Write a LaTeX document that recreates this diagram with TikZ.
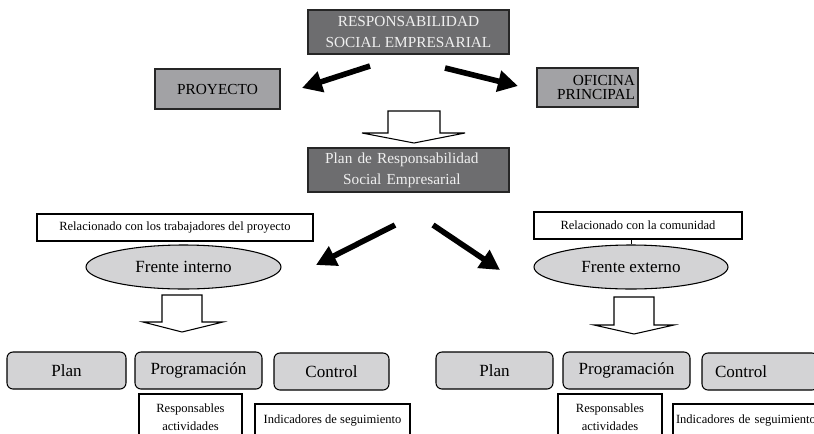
\documentclass[tikz,border=0pt]{standalone}
\usepackage{fontspec}
\setmainfont{Liberation Serif}
\usetikzlibrary{arrows.meta,shapes.geometric}
\definecolor{darkbox}{HTML}{6D6D6F}
\definecolor{midbox}{HTML}{A2A2A5}
\definecolor{lightbox}{HTML}{D3D3D5}
\definecolor{boxtext}{HTML}{F0F0F0}
\begin{document}
\begin{tikzpicture}[x=0.75pt,y=-0.75pt,
  darkrect/.style={draw=black!85, line width=1.1pt, fill=darkbox, text=boxtext, align=center,
    font=\fontsize{11.5}{15.5}\selectfont, inner sep=0pt},
  midrect/.style={draw=black!85, line width=1.1pt, fill=midbox, text=black, align=center,
    font=\fontsize{11.5}{11.2}\selectfont, inner sep=0pt},
  noterect/.style={draw=black, line width=0.8pt, fill=white, align=center,
    font=\fontsize{9.4}{13.5}\selectfont, inner sep=0pt},
  oval/.style={ellipse, draw=black, line width=0.8pt, fill=lightbox, inner sep=0pt,
    font=\fontsize{12.8}{15}\selectfont},
  roundbox/.style={draw=black, line width=0.8pt, fill=lightbox, rounded corners=4.5pt,
    inner sep=0pt, font=\fontsize{12.8}{15}\selectfont},
  bigarrow/.style={line width=4.2pt, -{Triangle[length=15pt,width=15.5pt]}},
  blockarrow/.style={draw=black, line width=0.8pt, fill=white}
]
\fill[white] (0,0) rectangle (814,433);
\path[use as bounding box] (0,0) rectangle (814,433);
\clip (0,0) rectangle (814,433);

% top level
\node[darkrect, minimum width=201*0.75pt, minimum height=44*0.75pt] (rse) at (408.5,32)
  {RESPONSABILIDAD\\SOCIAL EMPRESARIAL};
\node[midrect, minimum width=125*0.75pt, minimum height=40*0.75pt] (proy) at (217.5,89) {PROYECTO};
\node[midrect, minimum width=101*0.75pt, minimum height=39*0.75pt, text width=95*0.75pt,
  align=right, inner xsep=1pt] (ofi) at (587.5,87.5) {OFICINA\hspace*{7pt}\\PRINCIPAL};

\coordinate (a1s) at (370,66);
\coordinate (a1e) at (302,88);
\coordinate (a2s) at (445,68);
\coordinate (a2e) at (518,86);
\draw[bigarrow] (a1s) -- (a1e);
\draw[bigarrow] (a2s) -- (a2e);

% block arrow 1
\draw[blockarrow] (388,111) -- (440,111) -- (440,133) -- (465,133) -- (414,143)
  -- (362,133) -- (388,133) -- cycle;

\node[darkrect, minimum width=201*0.75pt, minimum height=44*0.75pt, text width=190*0.75pt,
  align=center] (plan) at (408.5,170)
  {\hspace*{-10pt}Plan de Responsabilidad\\\hspace*{-10pt}Social Empresarial};

% second level
\coordinate (a3s) at (395,225);
\coordinate (a3e) at (316,265);
\coordinate (a4s) at (433,225);
\coordinate (a4e) at (500,270);
\draw[bigarrow] (a3s) -- (a3e);
\draw[bigarrow] (a4s) -- (a4e);

\node[noterect, minimum width=276*0.75pt, minimum height=27*0.75pt] (relL) at (175,227.5)
  {Relacionado con los trabajadores del proyecto};
\node[oval, minimum width=195*0.75pt, minimum height=44*0.75pt] (frL) at (183.5,267) {Frente interno};

\node[noterect, minimum width=208*0.75pt, minimum height=27*0.75pt] (relR) at (638,225.5)
  {Relacionado con la comunidad};
\node[oval, minimum width=194*0.75pt, minimum height=44*0.75pt] (frR) at (631,267) {Frente externo};
\draw[line width=0.5pt] (frR.north) -- (frR.north |- relR.south);

% block arrows 2 and 3
\draw[blockarrow] (162,295) -- (202,295) -- (202,322) -- (223,322) -- (182,332)
  -- (143,322) -- (162,322) -- cycle;
\draw[blockarrow] (614,297) -- (654,297) -- (654,325) -- (674,325) -- (634,334)
  -- (594,325) -- (614,325) -- cycle;

% bottom left
\node[roundbox, minimum width=119*0.75pt, minimum height=37*0.75pt] (planL) at (66.5,370.5) {Plan};
\node[roundbox, minimum width=127*0.75pt, minimum height=37*0.75pt] (progL) at (198.5,370.5) {Programación};
\node[roundbox, minimum width=115*0.75pt, minimum height=37*0.75pt] (ctrlL) at (331.5,371.5) {Control};
\node[noterect, minimum width=103*0.75pt, minimum height=46*0.75pt] (respL) at (190.5,417)
  {Responsables\\actividades};
\node[noterect, minimum width=155*0.75pt, minimum height=32*0.75pt] (indL) at (332.5,420)
  {Indicadores de seguimiento};

% bottom right
\node[roundbox, minimum width=117*0.75pt, minimum height=37*0.75pt] (planR) at (494.5,370.5) {Plan};
\node[roundbox, minimum width=127*0.75pt, minimum height=37*0.75pt] (progR) at (626.5,370.5) {Programación};
\node[roundbox, minimum height=37*0.75pt, text width=90*0.75pt, inner xsep=13*0.75pt, align=left]
  (ctrlR) at (760,371.5) {Control};
\node[noterect, minimum width=104*0.75pt, minimum height=46*0.75pt] (respR) at (610,417)
  {Responsables\\actividades};
\node[noterect, minimum height=32*0.75pt, text width=144*0.75pt, inner xsep=3*0.75pt, align=left]
  (indR) at (748,420) {Indicadores de seguimiento};
\end{tikzpicture}
\end{document}
